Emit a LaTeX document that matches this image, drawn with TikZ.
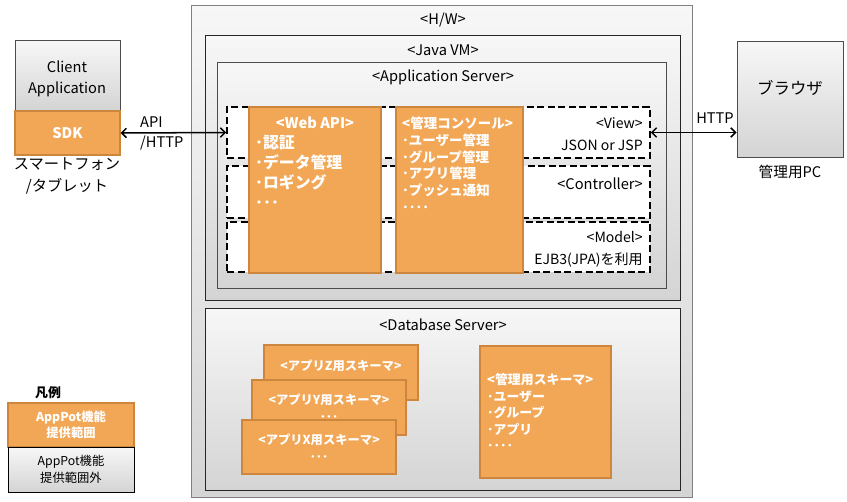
\documentclass[tikz,border=0pt]{standalone}
\usepackage{fontspec}
\setmainfont{Noto Sans CJK JP}
\usetikzlibrary{arrows.meta}
\usetikzlibrary{positioning}
\usetikzlibrary{fit}
\usetikzlibrary{shadows}
\definecolor{appOrange}{RGB}{242,167,86}
\definecolor{appOrangeLine}{RGB}{205,134,62}
\definecolor{boxTop}{RGB}{247,247,247}
\definecolor{boxBottom}{RGB}{212,212,212}

\begin{document}
\begin{tikzpicture}[x=0.03cm, y=-0.03cm]
	\tikzset{layer/.style = {draw=black!70, line width=0.8pt, top color=boxTop, 
			bottom color=boxBottom, inner sep=0pt,
			drop shadow={shadow xshift=1pt, shadow yshift=-1pt, opacity=0.3}}}
	\tikzset{mvc/.style = {draw, line width=1.4pt, dash pattern=on 6pt off 3pt, 
			fill=white, inner sep=0pt}}
	\tikzset{func/.style = {draw=appOrangeLine, line width=1pt, fill=appOrange, 
			inner sep=0pt}}
	\tikzset{txt/.style = {inner sep=0pt, font=\fontsize{12.5}{15.5}\selectfont}}
	\tikzset{wtxt/.style = {inner sep=0pt, text=white, align=left,
			font=\bfseries\fontsize{11.5}{14.2}\selectfont}}
	\tikzset{edgebi/.style = {<->, >={Straight Barb[length=4pt,width=8pt]}, 
			line width=1.3pt}}
	
	\useasboundingbox (0,0) rectangle (847,501);
	
	% layers
	\node[layer, draw=black!50, fit={(191,5) (692,497)}] (hw) {};
	\node[txt] (hwLbl) at (443,20) {<H/W>};
	\node[layer, draw=black!85, fit={(205,35) (680,300)}] (jvm) {};
	\node[txt] (jvmLbl) at (443,50) {<Java VM>};
	\node[layer, fit={(217,62) (666,288)}] (apsv) {};
	\node[txt] (apsvLbl) at (443,77) {<Application Server>};
	
	% MVC rows
	\node[mvc, fit={(227,107) (650,158)}] (view) {};
	\node[mvc, fit={(227,166) (650,218)}] (ctrl) {};
	\node[mvc, fit={(227,222) (650,272)}] (model) {};
	\node[txt, anchor=east, align=right, font=\fontsize{12}{19}\selectfont] 
		(viewLbl) at (643,134) {<View>\\JSON or JSP};
	\node[txt, anchor=east] (ctrlLbl) at (643,184) {<Controller>};
	\node[txt, anchor=east, align=right, font=\fontsize{12}{19}\selectfont] 
		(modelLbl) at (643,249) {<Model>\\EJB3(JPA)を利用};
	
	% AppPot functions
	\node[func, fit={(249,107) (381,273)}] (webapi) {};
	\node[wtxt, anchor=north, font=\bfseries\fontsize{12.5}{15}\selectfont] 
		(webapiTtl) at (315,117) {<Web API>};
	\node[wtxt, anchor=north west, font=\bfseries\fontsize{13.5}{17}\selectfont] 
		(webapiTxt) at (255,135) {･認証\\･データ管理\\･ロギング\\･･･};
	\node[func, fit={(396,107) (523,273)}] (console) {};
	\node[wtxt, anchor=north west] (consoleTxt) at (402,117) 
		{<管理コンソール>\\･ユーザー管理\\･グループ管理\\･アプリ管理\\･プッシュ通知\\････};
	
	% database
	\node[layer, draw=black!85, fit={(205,308) (680,490)}] (db) {};
	\node[txt] (dbLbl) at (443,325) {<Database Server>};
	\tikzset{schema/.style = {wtxt, align=center, font=\bfseries\fontsize{10.5}{14.5}\selectfont}}
	\node[func, fit={(264,345) (418,400)}] (schemaZ) {};
	\node[schema] (schemaZTxt) at (341,366) {<アプリZ用スキーマ>};
	\node[func, fit={(252,380) (406,435)}] (schemaY) {};
	\node[schema] (schemaYTxt) at (329,408) {<アプリY用スキーマ>\\･･･};
	\node[func, fit={(242,420) (396,474)}] (schemaX) {};
	\node[schema] (schemaXTxt) at (319,448) {<アプリX用スキーマ>\\･･･};
	\node[func, fit={(480,346) (611,478)}] (admin) {};
	\node[wtxt, anchor=north west, font=\bfseries\fontsize{11}{14.2}\selectfont] 
		(adminTxt) at (487,373) {<管理用スキーマ>\\･ユーザー\\･グループ\\･アプリ\\････};
	
	% client and browser
	\node[layer, fit={(15,40) (120,111)}] (client) {};
	\node[txt, align=center, font=\fontsize{12.5}{18}\selectfont] (clientTxt) at (67,79) 
		{Client\\Application};
	\node[func, fit={(15,111) (120,155)}] (sdk) {};
	\node[wtxt, font=\bfseries\fontsize{12.5}{15}\selectfont] (sdkTxt) at (sdk) {SDK};
	\node[txt, align=center, font=\fontsize{13}{18}\selectfont] (clientLbl) at (67,176) 
		{スマートフォン\\/タブレット};
	\node[layer, fit={(737,41) (843,157)}] (browser) {};
	\node[txt, font=\fontsize{14}{16}\selectfont] (browserTxt) at (790,88) {ブラウザ};
	\node[txt, font=\fontsize{12.5}{15}\selectfont] (browserLbl) at (790,172) {管理用PC};
	
	% legend
	\node[txt, font=\bfseries\fontsize{11}{14}\selectfont] (legendTtl) at (48,393) {凡例};
	\node[func, fit={(8,403) (134,447)}] (legendIn) {};
	\node[wtxt, align=center, font=\bfseries\fontsize{10.5}{14}\selectfont] (legendInTxt) 
		at (legendIn) {AppPot機能\\提供範囲};
	\node[layer, draw=black, fit={(8,447) (134,492)}] (legendOut) {};
	\node[txt, align=center, font=\fontsize{10.5}{14}\selectfont] (legendOutTxt) 
		at (legendOut) {AppPot機能\\提供範囲外};
	
	%edges
	\draw[edgebi] (sdk.east) -- (view.west);
	\node[txt, anchor=west, align=left, font=\fontsize{12.5}{17}\selectfont] 
		(apiLbl) at (140,133) {API\\/HTTP};
	\draw[edgebi] (view.east) -- (view.east -| browser.west);
	\node[txt] (httpLbl) at (715,118) {HTTP};
	
\end{tikzpicture}
\end{document}
